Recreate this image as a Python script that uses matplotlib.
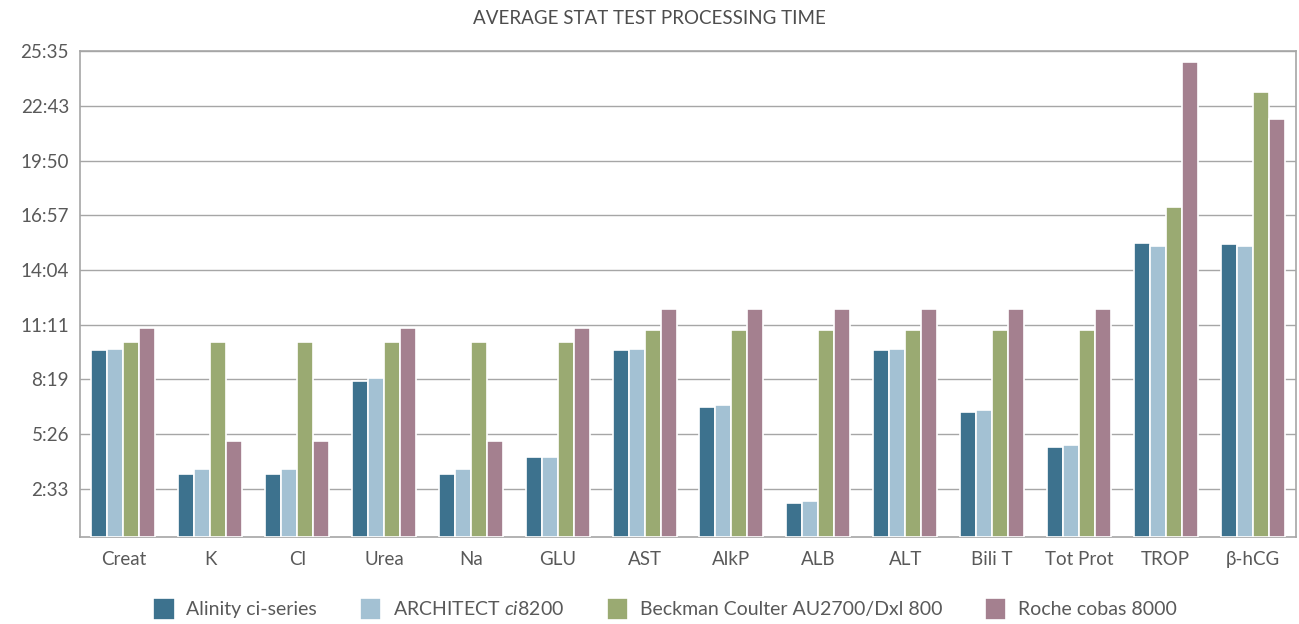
import numpy as np
import matplotlib
matplotlib.use("Agg")
import matplotlib.pyplot as plt

plt.rcParams['font.family'] = ['Lato', 'DejaVu Sans']
plt.rcParams['mathtext.fontset'] = 'custom'
plt.rcParams['mathtext.it'] = 'Lato:italic'
plt.rcParams['mathtext.rm'] = 'Lato'

# ----- data (seconds) -----
tests = ["Creat", "K", "Cl", "Urea", "Na", "GLU", "AST", "AlkP", "ALB", "ALT",
         "Bili T", "Tot Prot", "TROP", "β-hCG"]
alinity = [591, 201, 201, 494, 201, 255, 591, 412, 108, 591, 395, 286, 931, 926]
architect = [596, 217, 217, 504, 217, 255, 596, 417, 114, 596, 401, 293, 920, 919]
beckman = [617, 617, 617, 617, 617, 617, 656, 656, 656, 656, 656, 656, 1044, 1406]
roche = [660, 303, 303, 660, 303, 660, 720, 720, 720, 720, 720, 720, 1500, 1320]

series_names = ["Alinity ci-series", r"ARCHITECT $\it{ci}$8200",
                "Beckman Coulter AU2700/Dxl 800", "Roche cobas 8000"]
colors = ["#3d728e", "#a3c1d3", "#9aaa72", "#a4808f"]

tick_vals = [153.4 + 172.8 * k for k in range(9)]
tick_labels = ["2:33", "5:26", "8:19", "11:11", "14:04", "16:57", "19:50", "22:43", "25:35"]

# ----- plot -----
fig = plt.figure(figsize=(12.99, 6.24), dpi=100)
ax = fig.add_axes([0.0616, 0.139, 0.9361, 0.779])

x = np.arange(len(tests))
pitch = 0.184
for i, (vals, name, c) in enumerate(zip([alinity, architect, beckman, roche], series_names, colors)):
    ax.bar(x + (i - 1.5) * pitch, vals, width=pitch, color=c, edgecolor="white",
           linewidth=1.2, label=name, zorder=3)

ax.set_xlim(-0.5, len(tests) - 0.5)
ax.set_ylim(0, tick_vals[-1])
ax.set_yticks(tick_vals)
ax.set_yticklabels(tick_labels)
ax.set_xticks(x)
ax.set_xticklabels(tests)
ax.tick_params(axis="both", length=0, labelsize=13.5, colors="#595959")
ax.tick_params(axis="x", pad=10)
ax.tick_params(axis="y", pad=8)
ax.yaxis.grid(True, color="#a6a6a6", linewidth=1, zorder=0)
for s in ax.spines.values():
    s.set_color("#a6a6a6")
    s.set_linewidth(1.2)

fig.text(0.5, 0.97, "AVERAGE STAT TEST PROCESSING TIME", ha="center", va="center",
         fontsize=13.5, color="#4d4d4d")

leg = fig.legend(loc="center", bbox_to_anchor=(0.512, 0.024), ncol=4, frameon=False,
                 fontsize=14, handlelength=1.1, handleheight=1.4, columnspacing=2.2,
                 handletextpad=0.6)
for t in leg.get_texts():
    t.set_color("#595959")

fig.savefig("out.png", dpi=100)
